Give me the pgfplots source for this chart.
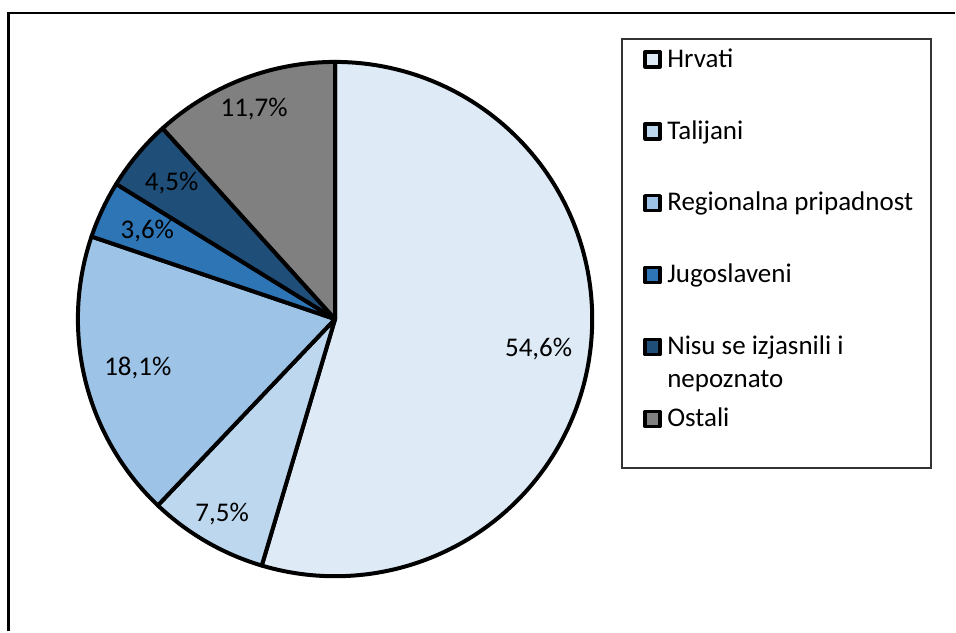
\documentclass[border=0pt]{standalone}
\usepackage{pgfplots}
\pgfplotsset{compat=1.18}
\usepackage{fontspec}
\setmainfont{Carlito}
\definecolor{cHr}{HTML}{DEEBF7}
\definecolor{cTa}{HTML}{BDD7EE}
\definecolor{cRe}{HTML}{9DC3E6}
\definecolor{cJu}{HTML}{2E75B6}
\definecolor{cNi}{HTML}{1F4E79}
\definecolor{cOs}{HTML}{808080}
% shares in percent
\def\vA{54.6}\def\vB{7.5}\def\vC{18.1}\def\vD{3.6}\def\vE{4.5}\def\vF{11.7}
\def\R{257.5}
\pgfmathsetmacro\aA{90}
\pgfmathsetmacro\aB{\aA-3.6*\vA}
\pgfmathsetmacro\aC{\aB-3.6*\vB}
\pgfmathsetmacro\aD{\aC-3.6*\vC}
\pgfmathsetmacro\aE{\aD-3.6*\vD}
\pgfmathsetmacro\aF{\aE-3.6*\vE}
\pgfmathsetmacro\aG{\aF-3.6*\vF}
\begin{document}
\fontsize{27bp}{32bp}\selectfont
\begin{tikzpicture}
\begin{axis}[
  width=956bp, height=632bp, scale only axis,
  xmin=-335.5, xmax=620.5, ymin=-312.5, ymax=319.5,
  hide axis, clip=false,
  legend cell align=left,
  legend image code/.code={\draw[#1, line width=3.5bp] (0.5bp,-6.25bp) rectangle (15.5bp,8.75bp);},
  legend style={at={(0.67364,0.92247)}, anchor=north west, draw=none, fill=none,
    inner sep=0pt, row sep=49bp, column sep=5.5bp,
    font=\fontsize{27bp}{32bp}\selectfont,
    nodes={inner sep=0pt, text height=18bp, text depth=5bp}},
  every axis plot/.append style={draw=black, line width=4bp, line join=round, variable=\t},
]
\path (axis cs:-335.5,-312.5) (axis cs:620.5,319.5);
\draw[line width=2.5bp] (axis cs:-327,-312.5) -- (axis cs:-327,306.5) -- (axis cs:620.5,306.5);
\addplot[fill=cHr, domain=\aB:\aA, samples=160] ({\R*cos(\t)},{\R*sin(\t)}) -- (axis cs:0,0) -- cycle;
\addlegendentry{Hrvati}
\addplot[fill=cTa, domain=\aC:\aB, samples=40] ({\R*cos(\t)},{\R*sin(\t)}) -- (axis cs:0,0) -- cycle;
\addlegendentry{Talijani}
\addplot[fill=cRe, domain=\aD:\aC, samples=80] ({\R*cos(\t)},{\R*sin(\t)}) -- (axis cs:0,0) -- cycle;
\addlegendentry{Regionalna pripadnost}
\addplot[fill=cJu, domain=\aE:\aD, samples=20] ({\R*cos(\t)},{\R*sin(\t)}) -- (axis cs:0,0) -- cycle;
\addlegendentry{Jugoslaveni}
\addplot[fill=cNi, domain=\aF:\aE, samples=25] ({\R*cos(\t)},{\R*sin(\t)}) -- (axis cs:0,0) -- cycle;
\addlegendentry{\rlap{\smash{\raisebox{-33bp}{nepoznato}}}Nisu se izjasnili i}
\addplot[fill=cOs, domain=\aG:\aF, samples=50] ({\R*cos(\t)},{\R*sin(\t)}) -- (axis cs:0,0) -- cycle;
\addlegendentry{Ostali}
\draw[black!80, line width=2bp] (axis cs:287,280.5) rectangle (axis cs:596.5,-149.5);
\node[inner sep=0pt] at (axis cs:{0.80*\R*cos((\aA+\aB)/2)},{0.80*\R*sin((\aA+\aB)/2)}) {54,6\%};
\node[inner sep=0pt] at (axis cs:{0.877*\R*cos((\aB+\aC)/2)},{0.877*\R*sin((\aB+\aC)/2)}) {7,5\%};
\node[inner sep=0pt] at (axis cs:{0.79*\R*cos((\aC+\aD)/2)},{0.79*\R*sin((\aC+\aD)/2)}) {18,1\%};
\node[inner sep=0pt] at (axis cs:{0.807*\R*cos((\aD+\aE)/2)},{0.807*\R*sin((\aD+\aE)/2)}) {3,6\%};
\node[inner sep=0pt] at (axis cs:{0.827*\R*cos((\aE+\aF)/2)},{0.827*\R*sin((\aE+\aF)/2)}) {4,5\%};
\node[inner sep=0pt] at (axis cs:{0.876*\R*cos((\aF+\aG)/2)},{0.876*\R*sin((\aF+\aG)/2)}) {11,7\%};
\end{axis}
\end{tikzpicture}
\end{document}
